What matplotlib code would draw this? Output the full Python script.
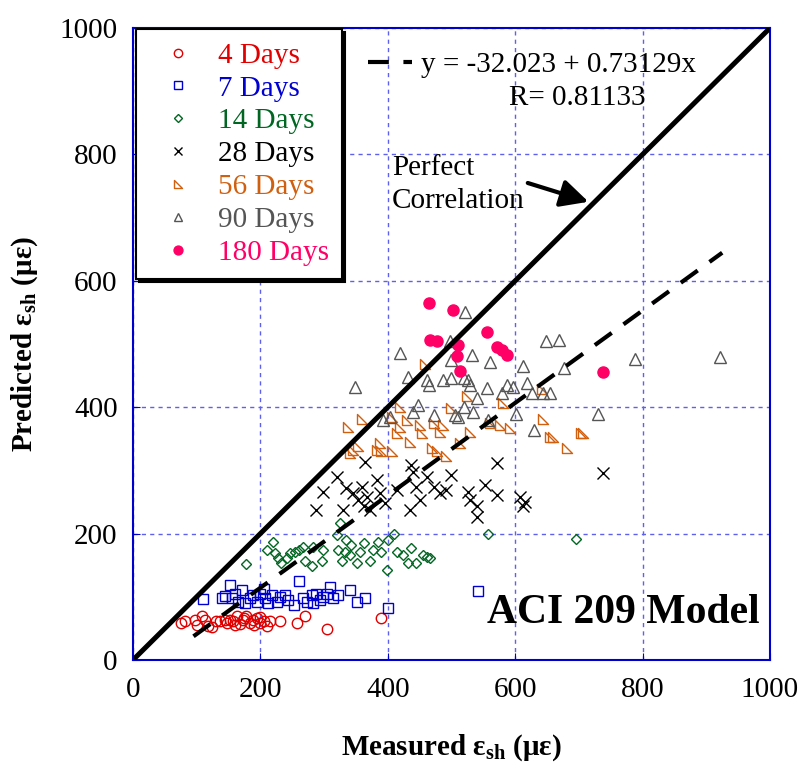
import matplotlib
matplotlib.use("Agg")
import matplotlib.pyplot as plt
from matplotlib.path import Path
import numpy as np

plt.rcParams['font.family'] = ['Liberation Serif', 'DejaVu Serif']
plt.rcParams['mathtext.fontset'] = 'custom'
plt.rcParams['mathtext.rm'] = 'Liberation Serif'
plt.rcParams['mathtext.bf'] = 'Liberation Serif:bold'
plt.rcParams['mathtext.it'] = 'Liberation Serif:italic'

# measured vs predicted shrinkage strain (microstrain)
d4_x = [76, 82, 97, 100, 108, 113, 118, 124, 130, 137, 144, 147, 152, 157, 160, 163,
        168, 173, 175, 178, 184, 189, 190, 194, 199, 200, 205, 210, 215, 231, 257,
        270, 304, 390]
d4_y = [59, 61, 63, 55, 69, 63, 54, 52, 62, 61, 63, 58, 64, 61, 55, 69,
        57, 63, 66, 70, 58, 63, 55, 66, 58, 68, 61, 53, 61, 61, 58,
        70, 49, 66]

d7_x = [110, 139, 144, 152, 155, 160, 165, 171, 176, 184, 189, 194, 199, 205, 207,
        212, 218, 226, 231, 239, 244, 252, 260, 267, 273, 281, 283, 288, 294, 299,
        304, 309, 314, 322, 341, 351, 364, 401, 542]
d7_y = [96, 98, 101, 119, 98, 105, 92, 111, 90, 98, 103, 92, 105, 113, 98,
        90, 103, 92, 100, 103, 95, 87, 125, 98, 92, 103, 90, 105, 95, 100,
        105, 116, 98, 103, 110, 92, 98, 83, 109]

d14_x = [177, 210, 220, 223, 228, 233, 241, 246, 254, 260, 267, 270, 281, 283, 296,
         299, 320, 322, 325, 328, 333, 335, 341, 343, 351, 356, 362, 372, 377, 385,
         390, 398, 401, 409, 414, 424, 432, 437, 445, 456, 461, 466, 558, 695]
d14_y = [152, 174, 186, 169, 161, 153, 161, 169, 171, 174, 179, 156, 148, 179, 156,
         174, 198, 174, 216, 156, 171, 190, 166, 182, 153, 171, 185, 156, 174, 187,
         171, 142, 190, 200, 171, 166, 153, 177, 153, 166, 163, 161, 199, 191]

d28_x = [288, 299, 320, 330, 335, 346, 354, 359, 362, 364, 367, 372, 383, 388, 396,
         414, 435, 437, 440, 445, 451, 461, 472, 482, 492, 500, 526, 529, 540, 540,
         553, 571, 571, 608, 613, 616, 738]
d28_y = [237, 266, 290, 237, 272, 264, 253, 274, 243, 314, 258, 237, 285, 264, 248,
         269, 237, 309, 298, 274, 253, 290, 274, 264, 269, 293, 266, 253, 243, 227,
         277, 261, 312, 258, 243, 250, 296]

d56_x = [338, 341, 346, 354, 359, 383, 388, 390, 406, 406, 414, 419, 419, 430, 435,
         451, 453, 458, 469, 472, 477, 482, 487, 492, 500, 513, 524, 529, 560, 576,
         581, 592, 642, 644, 655, 660, 681, 704, 707]
d56_y = [369, 327, 332, 338, 382, 332, 343, 330, 385, 330, 359, 401, 369, 380, 345,
         372, 359, 469, 335, 375, 330, 361, 372, 322, 398, 343, 417, 361, 375, 372,
         406, 367, 429, 382, 353, 353, 335, 359, 359]

d90_x = [348, 393, 403, 419, 432, 440, 448, 461, 464, 472, 487, 498, 500, 500, 505,
         511, 519, 519, 521, 526, 529, 532, 534, 540, 555, 558, 560, 579, 587, 597,
         602, 613, 618, 626, 629, 644, 649, 655, 669, 676, 730, 788, 921]
d90_y = [432, 380, 385, 486, 448, 393, 403, 443, 435, 388, 443, 504, 446, 475, 388,
         385, 446, 401, 550, 443, 435, 483, 393, 414, 430, 380, 472, 422, 435, 432,
         390, 465, 438, 422, 364, 423, 504, 423, 506, 462, 390, 477, 479]

d180_x = [464, 466, 477, 502, 509, 511, 513, 555, 572, 579, 587, 738]
d180_y = [565, 507, 504, 553, 481, 498, 458, 519, 496, 491, 483, 455]

fit_intercept = -32.023
fit_slope = 0.73129
fit_r = 0.81133
fit_x = [95, 925]
perfect_x = [0, 1000]

# right triangle marker (vertical left edge, flat bottom)
rtri = Path([(-1, 1), (-1, -1), (1, -1), (-1, 1)],
            [Path.MOVETO, Path.LINETO, Path.LINETO, Path.CLOSEPOLY])

series = [
    (d4_x, d4_y, '4 Days', 'o', '#e00000', 'none', 7.5),
    (d7_x, d7_y, '7 Days', 's', '#0000d0', 'none', 7.5),
    (d14_x, d14_y, '14 Days', 'D', '#006622', 'none', 5.5),
    (d28_x, d28_y, '28 Days', 'x', 'black', 'none', 8),
    (d56_x, d56_y, '56 Days', rtri, '#d06010', 'none', 7),
    (d90_x, d90_y, '90 Days', '^', '#555555', 'none', 8),
    (d180_x, d180_y, '180 Days', 'o', '#ff0066', '#ff0066', 8),
]

fig = plt.figure(figsize=(8.04, 7.71), dpi=100)
ax = fig.add_axes([0.1654, 0.144, 0.7923, 0.8197])

handles = []
for xs, ys, lab, mk, col, fc, ms in series:
    h, = ax.plot(xs, ys, linestyle='none', marker=mk, markersize=ms,
                 markeredgecolor=col, markerfacecolor=fc, markeredgewidth=1.0,
                 label=lab, zorder=3)
    handles.append(h)

# perfect correlation and regression lines
ax.plot(perfect_x, perfect_x, color='black', lw=3.6, zorder=4,
        solid_capstyle='butt')
fx = np.array(fit_x, dtype=float)
fit_line, = ax.plot(fx, fit_intercept + fit_slope * fx, color='black', lw=3,
                    dashes=(5, 3.5), zorder=4)

ax.set_xlim(0, 1000)
ax.set_ylim(0, 1000)
ax.set_xticks(np.arange(0, 1001, 200))
ax.set_yticks(np.arange(0, 1001, 200))
ax.tick_params(direction='in', length=5, color='#0000cc', labelsize=21, pad=11)
ax.tick_params(axis='x', pad=12)
for s in ax.spines.values():
    s.set_color('#0000cc')
    s.set_linewidth(1.5)
ax.grid(True, color='#6060ee', lw=1.0, linestyle=(0, (3, 3)))
ax.set_axisbelow(True)

ax.set_xlabel(r'Measured ε$_{\mathbf{sh}}$ (με)', fontsize=21, fontweight='bold')
ax.set_ylabel(r'Predicted ε$_{\mathbf{sh}}$ (με)', fontsize=21, fontweight='bold')
ax.xaxis.set_label_coords(0.5, -0.114)
ax.yaxis.set_label_coords(-0.146, 0.5)

leg = ax.legend(handles=handles, loc='upper left', bbox_to_anchor=(0.005, 0.998),
                borderaxespad=0, fontsize=21, markerscale=0.8, labelspacing=0.22,
                handlelength=2.0, handletextpad=0.35, borderpad=0.45,
                fancybox=False, edgecolor='black', framealpha=1,
                shadow={'color': 'black', 'alpha': 1})
leg.get_frame().set_linewidth(1.5)
for txt, (_, _, _, _, col, _, _) in zip(leg.get_texts(), series):
    txt.set_color(col)
ax.add_artist(leg)

leg2 = ax.legend([fit_line], ['y = -32.023 + 0.73129x'], loc='upper left',
                 bbox_to_anchor=(0.369, 0.962), borderaxespad=0, borderpad=0,
                 frameon=False, fontsize=21, handlelength=1.5, handletextpad=0.3)
ax.text(697, 889, 'R= %.5f' % fit_r, fontsize=21, ha='center', va='center')

ax.annotate('Perfect\nCorrelation', xy=(715, 725), xytext=(407, 752),
            fontsize=21, ha='left', va='center', linespacing=1.35,
            arrowprops=dict(arrowstyle='-|>,head_length=0.6,head_width=0.3',
                            lw=3, color='black', mutation_scale=28,
                            shrinkA=0, shrinkB=0, relpos=(0.92, 0.6)))

ax.text(769, 58, 'ACI 209 Model', fontsize=30, fontweight='bold',
        ha='center', va='baseline')

fig.savefig('out.png', dpi=100)
